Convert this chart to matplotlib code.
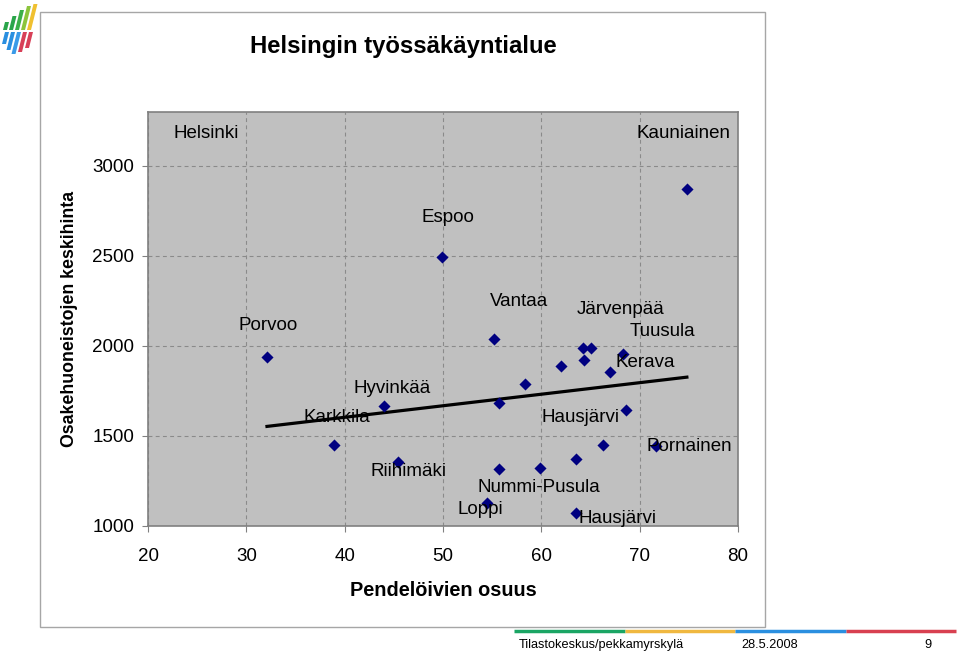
import numpy as np
import matplotlib
matplotlib.use("Agg")
import matplotlib.pyplot as plt
from matplotlib.patches import Rectangle, Polygon
from matplotlib.lines import Line2D

plt.rcParams['font.family'] = ['Liberation Sans', 'DejaVu Sans']

# ---- data ----
pendel_share = [32.1, 38.9, 44.0, 45.4, 49.9, 55.2, 55.7, 55.7, 54.5, 58.3, 59.9, 62.0,
                63.5, 63.5, 64.2, 65.1, 64.3, 66.3, 67.0, 68.3, 68.6, 71.7, 74.8]
avg_price = [1939, 1450, 1667, 1356, 2494, 2039, 1683, 1317, 1128, 1789, 1322, 1889,
             1372, 1072, 1989, 1989, 1922, 1450, 1856, 1956, 1644, 1444, 2872]
label_names = ["Helsinki", "Kauniainen", "Espoo", "Porvoo", "Vantaa", "Järvenpää", "Tuusula",
               "Kerava", "Hyvinkää", "Karkkila", "Hausjärvi", "Pornainen", "Riihimäki",
               "Nummi-Pusula", "Loppi", "Hausjärvi"]
x_ticks = [20, 30, 40, 50, 60, 70, 80]
y_ticks = [1000, 1500, 2000, 2500, 3000]

# label anchor positions (layout, in data coords)
label_x = [25.9, 74.5, 50.5, 32.2, 57.7, 68.1, 72.3, 70.6, 44.8, 39.2, 64.0, 75.0, 46.5, 59.8, 53.8, 67.7]
label_y = [3180, 3180, 2715, 2115, 2245, 2200, 2078, 1910, 1765, 1600, 1600, 1440, 1305, 1212, 1090, 1040]

W, H = 960, 652
fig = plt.figure(figsize=(9.6, 6.52), dpi=100)
fig.patch.set_facecolor('white')

def fx(px):
    return px / W

def fy(py):
    return 1 - py / H

# outer chart frame
fig.patches.append(Rectangle((fx(40), fy(627)), fx(765) - fx(40), fy(12) - fy(627),
                             transform=fig.transFigure, facecolor='white',
                             edgecolor='#a6a6a6', linewidth=1.0, zorder=-5))

# logo (approximation)
logo_up = [(3, 30, 22, '#2aa54a'), (9, 30, 16, '#2aa54a'), (15, 30, 10, '#3cb04a'),
           (21, 30, 6, '#8cc43c'), (27, 30, 4, '#f0c030')]
for x0, yb, yt, c in logo_up:
    poly = [(x0, yb), (x0 + 4, yb), (x0 + 4 + 0.25 * (yb - yt), yt), (x0 + 0.25 * (yb - yt), yt)]
    fig.patches.append(Polygon([(fx(a), fy(b)) for a, b in poly], closed=True,
                               transform=fig.transFigure, facecolor=c, edgecolor='none',
                               zorder=-4))
logo_dn = [(5, 32, 44, '#2a8fe0'), (11, 32, 50, '#2a8fe0'), (17, 32, 54, '#3a9ae8'),
           (23, 32, 52, '#d84058'), (29, 32, 48, '#d84058')]
for x0, yt, yb, c in logo_dn:
    poly = [(x0, yt), (x0 + 4, yt), (x0 + 4 - 0.25 * (yb - yt), yb), (x0 - 0.25 * (yb - yt), yb)]
    fig.patches.append(Polygon([(fx(a), fy(b)) for a, b in poly], closed=True,
                               transform=fig.transFigure, facecolor=c, edgecolor='none',
                               zorder=-4))

# axes
ax = fig.add_axes([fx(148), fy(526), fx(738) - fx(148), fy(112) - fy(526)])
ax.set_zorder(2)
ax.set_facecolor('#c0c0c0')
ax.set_xlim(20, 80)
ax.set_ylim(1000, 3300)
ax.set_xticks(x_ticks)
ax.set_yticks(y_ticks)
ax.set_xticklabels([str(v) for v in x_ticks])
ax.set_yticklabels([str(v) for v in y_ticks])
ax.tick_params(axis='both', labelsize=13.5, colors='black', length=4, width=0.8,
               direction='out', color='#808080')
ax.tick_params(axis='y', pad=6)
ax.tick_params(axis='x', pad=12)
for s in ax.spines.values():
    s.set_color('#808080')
    s.set_linewidth(1.2)
ax.grid(True, color='#8a8a8a', linestyle=(0, (3.5, 3)), linewidth=0.8)
ax.set_axisbelow(True)

# trend line (least squares)
coef = np.polyfit(pendel_share, avg_price, 1)
tx = np.array([min(pendel_share), max(pendel_share)])
ax.plot(tx, np.polyval(coef, tx), color='black', linewidth=2.3, zorder=3)

ax.scatter(pendel_share, avg_price, marker='D', s=38, color='#000080', zorder=4,
           linewidths=0)

for name, lx, ly in zip(label_names, label_x, label_y):
    ax.text(lx, ly, name, ha='center', va='center', fontsize=13.5, color='black', zorder=5)

# titles
fig.text(fx(403), fy(46), "Helsingin työssäkäyntialue", ha='center', va='center',
         fontsize=17.2, fontweight='bold')
fig.text(fx(70), fy(319), "Osakehuoneistojen keskihinta", ha='center', va='center',
         fontsize=12.8, fontweight='bold', rotation=90)
fig.text(fx(443), fy(591), "Pendelöivien osuus", ha='center', va='center',
         fontsize=14.3, fontweight='bold')

# footer
seg_cols = ['#1aa564', '#f0b840', '#2a8fe0', '#d84050']
xs = np.linspace(514, 956, 5)
for i, c in enumerate(seg_cols):
    fig.lines.append(Line2D([fx(xs[i]), fx(xs[i + 1])], [fy(631), fy(631)],
                            transform=fig.transFigure, color=c, linewidth=2.5,
                            solid_capstyle='butt'))
fig.text(fx(519), fy(645), "Tilastokeskus/pekkamyrskylä", ha='left', va='center', fontsize=9.2)
fig.text(fx(741), fy(645), "28.5.2008", ha='left', va='center', fontsize=9.2)
fig.text(fx(928), fy(645), "9", ha='center', va='center', fontsize=9.2)

fig.savefig('out.png', dpi=100)
